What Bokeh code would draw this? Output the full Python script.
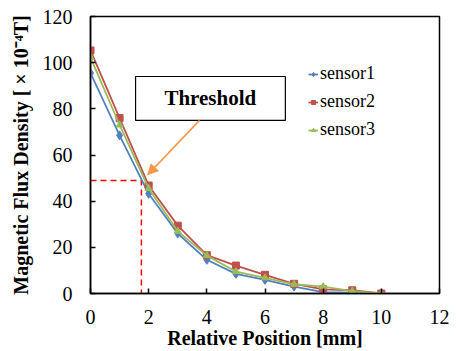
from bokeh.plotting import figure
from bokeh.models import Range1d, FixedTicker, Arrow, NormalHead, Legend, LegendItem
from bokeh.core.properties import value
from bokeh.embed import file_html
from bokeh.resources import INLINE

# ---- data ----
position = [0, 1, 2, 3, 4, 5, 6, 7, 8, 9, 10]
sensor1 = [95.5, 68.5, 43.2, 26.0, 14.6, 8.5, 5.9, 3.0, 0.6, 0.4, 0.0]
sensor2 = [105.3, 76.0, 46.8, 29.4, 16.6, 12.1, 8.1, 4.2, 1.8, 1.4, 0.0]
sensor3 = [102.3, 73.0, 45.5, 27.0, 16.4, 9.5, 6.8, 4.0, 3.0, 1.0, 0.0]
series_names = ["sensor1", "sensor2", "sensor3"]
x_ticks = [0, 2, 4, 6, 8, 10, 12]
y_ticks = [0, 20, 40, 60, 80, 100, 120]
threshold_x = 1.75
threshold_y = 49
threshold_label = "Threshold"

SERIF = "Liberation Serif"
colors = ["#4F81BD", "#C0504D", "#9BBB59"]
markers = ["diamond", "square", "triangle"]

p = figure(width=456, height=351, output_backend="svg", toolbar_location=None,
           x_range=Range1d(0, 12), y_range=Range1d(0, 120),
           min_border_left=90, min_border_right=17, min_border_top=16, min_border_bottom=58)
p.grid.visible = False
p.outline_line_color = "black"
p.outline_line_width = 1.5
p.background_fill_color = "white"
p.border_fill_color = "white"

for ax in (p.xaxis[0], p.yaxis[0]):
    ax.axis_line_color = "black"
    ax.axis_line_width = 1.5
    ax.major_tick_in = 5
    ax.major_tick_out = 0
    ax.major_tick_line_width = 1.5
    ax.minor_tick_line_color = None
    ax.major_label_text_font = SERIF
    ax.major_label_text_font_size = "20px"
    ax.major_label_text_color = "black"
    ax.axis_label_text_font = SERIF
    ax.axis_label_text_font_style = "bold"
    ax.axis_label_text_font_size = "20px"
    ax.axis_label_text_color = "black"

p.xaxis.ticker = FixedTicker(ticks=x_ticks)
p.yaxis.ticker = FixedTicker(ticks=y_ticks)
p.xaxis.major_label_standoff = 16
p.yaxis.major_label_standoff = 18
p.xaxis.axis_label = "Relative Position [mm]"
p.yaxis.axis_label = "Magnetic Flux Density [ \u00d7 10\u207b\u2074T]"
p.xaxis.axis_label_standoff = 0
p.yaxis.axis_label_standoff = 8

# threshold dashed guide
p.line([0, threshold_x, threshold_x], [threshold_y, threshold_y, 0],
       line_color="#FF0000", line_width=1.5, line_dash="6 4")

items = []
for name, ys, c, m in zip(series_names, [sensor1, sensor2, sensor3], colors, markers):
    r1 = p.line(position, ys, line_color=c, line_width=1.8)
    r2 = p.scatter(position, ys, marker=m, size=7 if m != "diamond" else 9,
                   fill_color=c, line_color=c)
    items.append(LegendItem(label=name, renderers=[r1, r2]))

legend = Legend(items=items, location=(218, 153))
legend.background_fill_alpha = 0
legend.border_line_color = None
legend.margin = 0
legend.padding = 0
legend.spacing = 7
legend.glyph_width = 10
legend.glyph_height = 20
legend.label_height = 20
legend.label_standoff = 2
legend.label_text_font = SERIF
legend.label_text_font_size = "18px"
legend.label_text_color = "black"
p.add_layout(legend, "center")

# threshold call-out box
p.quad(left=[1.55], right=[6.7], bottom=[75], top=[94],
       fill_color="white", line_color="black", line_width=1.2)
p.text(x=[4.12], y=[84.5], text=[threshold_label], text_font=value(SERIF),
       text_font_style="bold", text_font_size="21px", text_align="center",
       text_baseline="middle", text_color="black")

p.add_layout(Arrow(end=NormalHead(size=10, fill_color="#F79646", line_color="#F79646"),
                   x_start=3.75, y_start=75, x_end=1.97, y_end=51.5,
                   line_color="#F79646", line_width=1.5))

open("out.html", "w").write(file_html(p, INLINE))
